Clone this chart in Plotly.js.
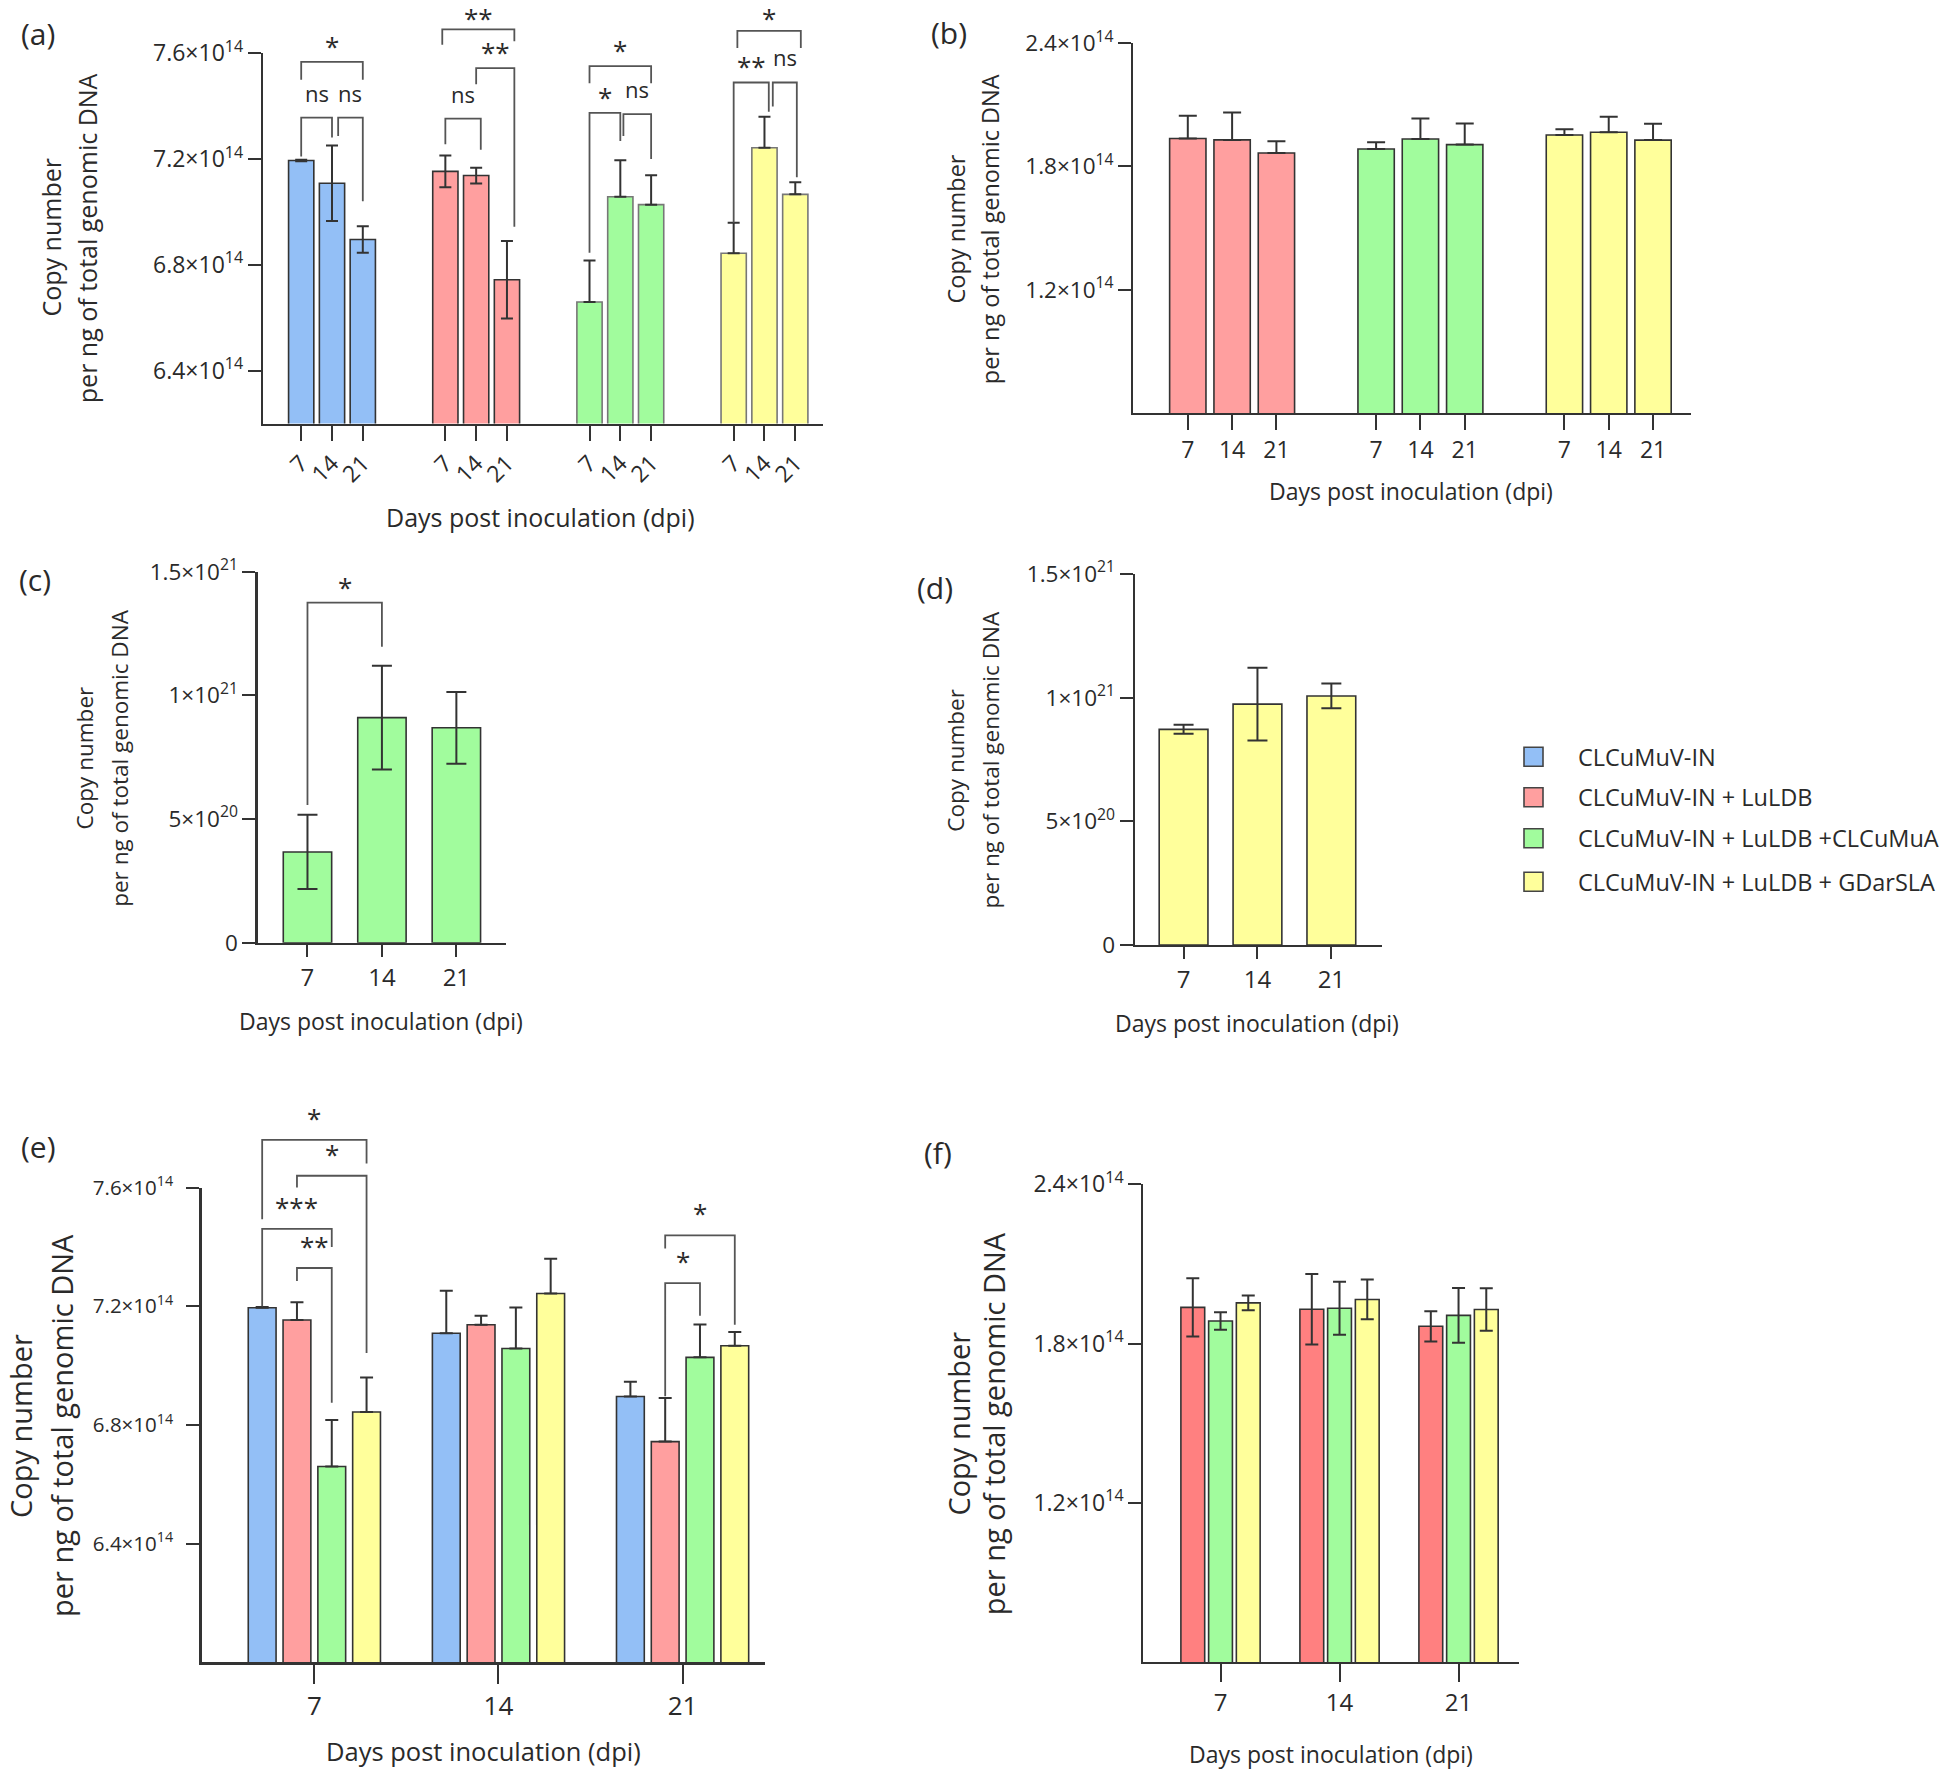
<!DOCTYPE html>
<html>
<head>
<meta charset="utf-8">
<script src="https://cdn.plot.ly/plotly-3.0.1.min.js"></script>
<style>
  body { margin: 0; background: #fff; }
</style>
</head>
<body>
<div id="fig" style="width:1959px;height:1770px"></div>
<script>
const W = 1959, H = 1770;
const FONT = 'Open Sans, Lato, sans-serif';
const INK = '#2a2a2a';

// x categories (days post inoculation)
const dpi = ['7', '14', '21'];
const seriesNames = [
  'CLCuMuV-IN',
  'CLCuMuV-IN + LuLDB',
  'CLCuMuV-IN + LuLDB +CLCuMuA',
  'CLCuMuV-IN + LuLDB + GDarSLA'
];
const fills = ['#93bff6', '#ff9f9f', '#a1fc9d', '#ffff9b'];

// CLCuMuV-IN copy number, panels (a) and (e)
const cvMean = [7.195e14, 7.109e14, 6.896e14];
const cvErr = [0.003e14, 0.143e14, 0.05e14];
const cvLuMean = [7.154e14, 7.138e14, 6.744e14];
const cvLuErr = [0.06e14, 0.03e14, 0.147e14];
const cvLuAMean = [6.66e14, 7.058e14, 7.028e14];
const cvLuAErr = [0.157e14, 0.138e14, 0.111e14];
const cvLuGMean = [6.844e14, 7.243e14, 7.067e14];
const cvLuGErr = [0.116e14, 0.117e14, 0.046e14];

// LuLDB copy number, panels (b) and (f)
const luLuMean = [1.936e14, 1.929e14, 1.865e14];
const luLuErr = [0.11e14, 0.133e14, 0.057e14];
const luLuAMean = [1.885e14, 1.933e14, 1.906e14];
const luLuAErr = [0.033e14, 0.1e14, 0.103e14];
const luLuGMean = [1.953e14, 1.966e14, 1.928e14];
const luLuGErr = [0.028e14, 0.075e14, 0.08e14];

// betasatellite copy number, panels (c) and (d)
const clcumuaMean = [0.367e21, 0.91e21, 0.869e21];
const clcumuaErr = [0.15e21, 0.21e21, 0.145e21];
const gdarslaMean = [0.872e21, 0.974e21, 1.007e21];
const gdarslaErr = [0.018e21, 0.147e21, 0.05e21];

// significance brackets: [group, from, to, top, left leg end, right leg end, label]
const bracketsA = [
  [0, 0, 2, 7.568e14, 7.50e14, 7.50e14, '*'],
  [0, 0, 1, 7.357e14, 7.21e14, 7.282e14, 'ns'],
  [0, 1.2, 2, 7.357e14, 7.288e14, 7.041e14, 'ns'],
  [1, -0.1, 2.24, 7.691e14, 7.633e14, 7.646e14, '**'],
  [1, 1, 2.24, 7.544e14, 7.483e14, 6.944e14, '**'],
  [1, 0, 1.15, 7.353e14, 7.256e14, 7.236e14, 'ns'],
  [2, 0, 2, 7.552e14, 7.487e14, 7.487e14, '*'],
  [2, 0, 1, 7.375e14, 6.846e14, 7.269e14, '*'],
  [2, 1.1, 2, 7.37e14, 7.288e14, 7.201e14, 'ns'],
  [3, 0.12, 2.18, 7.685e14, 7.62e14, 7.62e14, '*'],
  [3, 0, 1.14, 7.49e14, 6.96e14, 7.379e14, '**'],
  [3, 1.27, 2.05, 7.49e14, 7.399e14, 7.132e14, 'ns']
];
const bracketsC = [
  [0, 0, 1, 1.375e21, 0.557e21, 1.197e21, '*']
];
const bracketsE = [
  [0, 0, 3, 7.761e14, 7.493e14, 7.681e14, '*'],
  [0, 1, 3, 7.64e14, 7.6e14, 7.043e14, '*'],
  [0, 0, 2, 7.461e14, 7.2e14, 7.40e14, '***'],
  [0, 1, 2, 7.329e14, 7.285e14, 6.875e14, '**'],
  [2, 1, 3, 7.439e14, 7.395e14, 7.138e14, '*'],
  [2, 1, 2, 7.278e14, 6.897e14, 7.168e14, '*']
];

// panel boxes in page pixels: [left, right, top, bottom]
const panels = [
  {n: 1, box: [263, 823, 53.4, 423.6], xr: [-2.24, 15.94], yr: [6.2e14, 7.6e14]},
  {n: 2, box: [1133.3, 1690.7, 43.1, 413], xr: [-2.23, 10.35], yr: [0.6e14, 2.4e14]},
  {n: 3, box: [257.6, 505.5, 571.7, 942.7], xr: [-0.67, 2.66], yr: [0, 1.5e21]},
  {n: 4, box: [1134.8, 1381.6, 574, 945], xr: [-0.66, 2.68], yr: [0, 1.5e21]},
  {n: 5, box: [201.5, 764.7, 1187.6, 1662.4], xr: [-0.613, 2.446], yr: [6.0e14, 7.6e14]},
  {n: 6, box: [1143.4, 1519, 1184.3, 1661.9], xr: [-0.648, 2.508], yr: [0.6e14, 2.4e14]}
];

function xDom(p) { return [p.box[0] / W, p.box[1] / W]; }
function yDom(p) { return [1 - p.box[3] / H, 1 - p.box[2] / H]; }
function toPaper(p, v) {
  const d = yDom(p);
  return d[0] + (v - p.yr[0]) / (p.yr[1] - p.yr[0]) * (d[1] - d[0]);
}
function ax(n) { return n === 1 ? '' : String(n); }

const posA = (g, i) => g * 4.68 + i - 1;
const posB = (g, i) => g * 4.25 + i - 1;
const posE = (g, k) => g + (k - 1.5) * 0.189;
const posF = (g, k) => g + (k - 1) * 0.233;

const traces = [];
function addBar(n, x, y, err, color, width, cap, bothWays, line) {
  traces.push({
    type: 'bar',
    x: x,
    y: y,
    width: width,
    xaxis: 'x' + ax(n),
    yaxis: 'y' + ax(n),
    marker: {color: color, line: {color: line || '#333', width: 1.6}},
    error_y: {
      type: 'data',
      symmetric: false,
      array: err,
      arrayminus: bothWays ? err : err.map(() => 0),
      color: '#333',
      thickness: 2,
      width: cap
    },
    showlegend: false,
    hoverinfo: 'y'
  });
}

// (a) grouped by treatment
const aMeans = [cvMean, cvLuMean, cvLuAMean, cvLuGMean];
const aErrs = [cvErr, cvLuErr, cvLuAErr, cvLuGErr];
aMeans.forEach((m, g) => {
  addBar(1, [0, 1, 2].map(i => posA(g, i)), m, aErrs[g], fills[g], 0.82, 6, g < 2, g < 2 ? '#333' : '#777');
});

// (b) LuLDB grouped by treatment
const bMeans = [luLuMean, luLuAMean, luLuGMean];
const bErrs = [luLuErr, luLuAErr, luLuGErr];
bMeans.forEach((m, g) => {
  addBar(2, [0, 1, 2].map(i => posB(g, i)), m, bErrs[g], fills[g + 1], 0.82, 9, false);
});

// (c) and (d)
addBar(3, [0, 1, 2], clcumuaMean, clcumuaErr, fills[2], 0.65, 10, true);
addBar(4, [0, 1, 2], gdarslaMean, gdarslaErr, fills[3], 0.66, 10, true);

// (e) grouped by dpi
aMeans.forEach((m, k) => {
  addBar(5, [0, 1, 2].map(g => posE(g, k)), m, aErrs[k], fills[k], 0.151, 6.5, false);
});

// (f) grouped by dpi
const fFills = ['#ff8080', fills[2], fills[3]];
bMeans.forEach((m, k) => {
  addBar(6, [0, 1, 2].map(g => posF(g, k)), m, bErrs[k], fFills[k], 0.2, 6.5, true);
});

const layout = {
  width: W,
  height: H,
  autosize: false,
  margin: {l: 0, r: 0, t: 0, b: 0},
  paper_bgcolor: '#fff',
  plot_bgcolor: 'rgba(0,0,0,0)',
  barmode: 'overlay',
  font: {family: FONT, color: INK},
  shapes: [],
  annotations: []
};

const sup14 = v => v + '×10<sup>14</sup>';
const betaTicks = ['0', '5×10<sup>20</sup>', '1×10<sup>21</sup>', '1.5×10<sup>21</sup>'];
const yTicks = {
  1: {vals: [6.4e14, 6.8e14, 7.2e14, 7.6e14], text: ['6.4', '6.8', '7.2', '7.6'].map(sup14), size: 23, gap: 0},
  2: {vals: [1.2e14, 1.8e14, 2.4e14], text: ['1.2', '1.8', '2.4'].map(sup14), size: 22.5, gap: 0},
  3: {vals: [0, 5e20, 1e21, 1.5e21], text: betaTicks, size: 22.5, gap: 0},
  4: {vals: [0, 5e20, 1e21, 1.5e21], text: betaTicks, size: 22.5, gap: 0},
  5: {vals: [6.4e14, 6.8e14, 7.2e14, 7.6e14], text: ['6.4', '6.8', '7.2', '7.6'].map(sup14), size: 20.5, gap: 9},
  6: {vals: [1.2e14, 1.8e14, 2.4e14], text: ['1.2', '1.8', '2.4'].map(sup14), size: 23, gap: 0}
};
const xTicks = {
  1: {vals: [0, 1, 2, 3].flatMap(g => [0, 1, 2].map(i => posA(g, i))), text: [0, 1, 2, 3].flatMap(() => dpi), len: 15, angle: -45, size: 23},
  2: {vals: [0, 1, 2].flatMap(g => [0, 1, 2].map(i => posB(g, i))), text: [0, 1, 2].flatMap(() => dpi), len: 15, angle: 0, size: 23},
  3: {vals: [0, 1, 2], text: dpi, len: 12, angle: 0, size: 24},
  4: {vals: [0, 1, 2], text: dpi, len: 12, angle: 0, size: 24},
  5: {vals: [0, 1, 2], text: dpi, len: 19, angle: 0, size: 26},
  6: {vals: [0, 1, 2], text: dpi, len: 18, angle: 0, size: 24}
};

panels.forEach(p => {
  const s = ax(p.n);
  layout['xaxis' + s] = {
    domain: xDom(p), range: p.xr, anchor: 'y' + s,
    showline: true, linecolor: '#333', linewidth: 2.2,
    ticks: 'outside', ticklen: xTicks[p.n].len, tickwidth: 2, tickcolor: '#333',
    tickmode: 'array', tickvals: xTicks[p.n].vals, ticktext: xTicks[p.n].text,
    tickangle: xTicks[p.n].angle,
    tickfont: {size: xTicks[p.n].size, color: INK, family: FONT},
    showgrid: false, zeroline: false, fixedrange: true
  };
  layout['yaxis' + s] = {
    domain: yDom(p), range: p.yr, anchor: 'x' + s,
    showline: true, linecolor: '#333', linewidth: 2.2,
    ticks: 'outside', ticklen: 13, tickwidth: 2, tickcolor: '#333',
    tickmode: 'array', tickvals: yTicks[p.n].vals, ticktext: yTicks[p.n].text,
    ticklabelstandoff: yTicks[p.n].gap,
    tickfont: {size: yTicks[p.n].size, color: INK, family: FONT},
    showgrid: false, zeroline: false, fixedrange: true
  };
});

function addBrackets(p, list, pos, starShift, nsShift) {
  const xref = 'x' + ax(p.n);
  list.forEach(b => {
    const x1 = pos(b[0], b[1]), x2 = pos(b[0], b[2]);
    const yt = toPaper(p, b[3]), y1 = toPaper(p, b[4]), y2 = toPaper(p, b[5]);
    layout.shapes.push({
      type: 'path', xref: xref, yref: 'paper',
      path: `M ${x1},${y1} L ${x1},${yt} L ${x2},${yt} L ${x2},${y2}`,
      line: {color: '#555', width: 1.8}
    });
    const isNs = b[6] === 'ns';
    const size = isNs ? 22 : 26;
    // keep the label box inside the page near the top edge
    let shift = isNs ? nsShift : starShift;
    const topRoom = (1 - yt) * H - 0.68 * size;
    if (shift > topRoom) shift = topRoom;
    layout.annotations.push({
      xref: xref, yref: 'paper', x: (x1 + x2) / 2, y: yt,
      text: b[6], showarrow: false, xanchor: 'center', yanchor: 'middle',
      yshift: shift,
      font: {size: size, color: INK, family: FONT}
    });
  });
}
addBrackets(panels[0], bracketsA, posA, 16, 25);
addBrackets(panels[2], bracketsC, (g, i) => g + i, 16, 22);
addBrackets(panels[4], bracketsE, posE, 22, 22);

function pageText(text, x, y, size, angle) {
  layout.annotations.push({
    xref: 'paper', yref: 'paper', x: x / W, y: 1 - y / H,
    text: text, showarrow: false, xanchor: 'center', yanchor: 'middle',
    textangle: angle || 0, font: {size: size, color: INK, family: FONT}
  });
}

// panel letters
pageText('(a)', 37.5, 33, 30);
pageText('(b)', 949, 32, 30);
pageText('(c)', 34.5, 579, 30);
pageText('(d)', 935, 587, 30);
pageText('(e)', 38.5, 1146, 30);
pageText('(f)', 938, 1152, 30);

// y axis titles (two lines each)
const yTitle1 = 'Copy number';
const yTitle2 = 'per ng of total genomic DNA';
const xTitle = 'Days post inoculation (dpi)';
[
  [50.5, 87.2, 238, 25],
  [955.5, 990.2, 229, 23.5],
  [84.4, 118.8, 758, 22.5],
  [954.7, 989.5, 760, 22.5],
  [20, 61, 1426, 29],
  [957.6, 993.2, 1424, 29]
].forEach(t => {
  pageText(yTitle1, t[0], t[2], t[3], -90);
  pageText(yTitle2, t[1], t[2], t[3], -90);
});

// x axis titles
[
  [540.5, 516.6, 25],
  [1411, 491, 23],
  [381.3, 1021, 23],
  [1257.4, 1023, 23],
  [483.6, 1751, 25.5],
  [1331, 1754, 23]
].forEach(t => pageText(xTitle, t[0], t[1], t[2]));

// legend
const legendY = [756.7, 797.3, 838.3, 881.7];
seriesNames.forEach((name, k) => {
  layout.shapes.push({
    type: 'rect', xref: 'paper', yref: 'paper',
    x0: 1524 / W, x1: 1543 / W,
    y0: 1 - (legendY[k] + 9.5) / H, y1: 1 - (legendY[k] - 9.5) / H,
    fillcolor: fills[k], line: {color: '#444', width: 1.6}
  });
  layout.annotations.push({
    xref: 'paper', yref: 'paper', x: 1576 / W, y: 1 - legendY[k] / H,
    text: name, showarrow: false, xanchor: 'left', yanchor: 'middle',
    font: {size: 23.5, color: INK, family: FONT}
  });
});

Plotly.newPlot('fig', traces, layout, {displayModeBar: false, staticPlot: true});
</script>
</body>
</html>
